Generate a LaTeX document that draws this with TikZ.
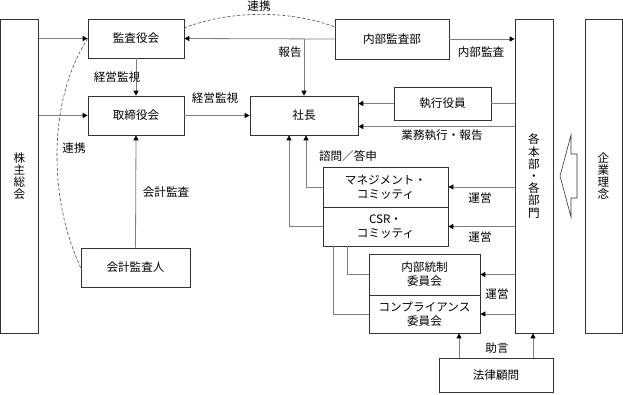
\documentclass[tikz,border=0pt]{standalone}
\usepackage{fontspec}
\setmainfont{Noto Sans CJK JP}
\usetikzlibrary{arrows.meta,calc}
\begin{document}
\begin{tikzpicture}[x=1pt,y=-1pt,
  box/.style={draw=black!80,line width=0.7pt,inner sep=0pt,align=center,fill=white,
    font=\fontsize{11.6}{14}\selectfont},
  vbox/.style={box,font=\fontsize{11.6}{12.2}\selectfont},
  conn/.style={draw=black!50,line width=0.8pt},
  arr/.style={conn,-{Triangle[length=5pt,width=5pt,color=black]}},
  dashline/.style={draw=black!70,line width=0.6pt,dash pattern=on 3pt off 2pt},
  lbl/.style={inner sep=0pt,font=\fontsize{11.6}{13}\selectfont}]
\useasboundingbox (0,0) rectangle (623,394);

% boxes
\node[vbox,minimum width=38pt,minimum height=314pt] (kabu) at (19.5,176) {株\\主\\総\\会};
\node[box,minimum width=96pt,minimum height=39pt] (kansa) at (136,38.5) {監査役会};
\node[box,minimum width=96pt,minimum height=39pt] (tori) at (136,115.5) {取締役会};
\node[box,minimum width=108pt,minimum height=39pt] (shacho) at (304,115.5) {社長};
\node[box,minimum width=114pt,minimum height=40pt] (naibu) at (392,39) {内部監査部};
\node[vbox,minimum width=38pt,minimum height=314pt] (kaku) at (534,176) {各\\本\\部\\・\\各\\部\\門};
\node[vbox,minimum width=37pt,minimum height=314pt] (kigyo) at (603.5,176) {企\\業\\理\\念};
\node[box,minimum width=97pt,minimum height=33pt] (shikko) at (442.5,103.5) {執行役員};
\node[box,minimum width=125pt,minimum height=40pt] (mgmt) at (385.5,187) {マネジメント・\\コミッティ};
\node[box,minimum width=125pt,minimum height=39pt] (csr) at (385.5,226.5) {CSR・\\コミッティ};
\node[box,minimum width=111pt,minimum height=41pt] (naitou) at (424.5,274.5) {内部統制\\委員会};
\node[box,minimum width=111pt,minimum height=38pt] (comp) at (424.5,314) {コンプライアンス\\委員会};
\node[box,minimum width=114pt,minimum height=34pt] (houritsu) at (496,375) {法律顧問};
\node[box,minimum width=109pt,minimum height=39pt] (kaikei) at (135.5,267.5) {会計監査人};

% helper coordinates
\coordinate (gyomu) at (0,126.5);
\coordinate (s1) at (306,0);
\coordinate (s2) at (289,0);
\coordinate (c1) at (347,0);
\coordinate (c2) at (333,0);
\coordinate (h1) at (459,0);
\coordinate (h2) at (533,0);
\coordinate (d1) at (184,28);
\coordinate (d2) at (335,27);

% connectors
\draw[arr] (kabu.east |- kansa.west) -- (kansa.west);
\draw[arr] (kabu.east |- tori.west) -- (tori.west);
\draw[arr] (kansa.south) -- (tori.north);
\draw[arr] (tori.east) -- (shacho.west);
\draw[arr] (naibu.west) -- (kansa.east);
\draw[arr] (naibu.west -| shacho.north) -- (shacho.north);
\draw[arr] (naibu.east) -- (kaku.west |- naibu.east);
\draw[conn] (kaku.west |- shikko.east) -- (shikko.east);
\draw[arr] (shikko.west) -- (shacho.east |- shikko.west);
\draw[arr] (kaku.west |- gyomu) -- (shacho.east |- gyomu);
\draw[arr] (mgmt.west) -| (s1 |- shacho.south);
\draw[arr] (csr.west) -| (s2 |- shacho.south);
\draw[arr] (kaku.west |- mgmt.east) -- (mgmt.east);
\draw[arr] (kaku.west |- csr.east) -- (csr.east);
\draw[arr] (kaku.west |- naitou.east) -- (naitou.east);
\draw[arr] (kaku.west |- comp.east) -- (comp.east);
\draw[conn] (c1 |- csr.south) |- (naitou.west);
\draw[conn] (c2 |- csr.south) |- (comp.west);
\draw[arr] (h1 |- houritsu.north) -- (h1 |- comp.south);
\draw[arr] (h2 |- houritsu.north) -- (h2 |- kaku.south);
\draw[arr] (kaikei.north) -- (tori.south);

% dashed links
\draw[dashline] (kansa.west) .. controls (48,100) and (48,198) .. (kaikei.west);
\draw[dashline] (d1) .. controls (230,10) and (290,10) .. (d2);

% block arrow
\draw[draw=black!80,line width=0.6pt] (571,135) -- (571,154) -- (577,154) -- (577,198)
  -- (571,198) -- (571,217) -- (560,176) -- cycle;

% labels
\node[lbl] at (259,6) {連携};
\node[lbl] at (117,77) {経営監視};
\node[lbl] at (215,98) {経営監視};
\node[lbl] at (74,148) {連携};
\node[lbl] at (166,192) {会計監査};
\node[lbl] at (290,52) {報告};
\node[lbl] at (481,52) {内部監査};
\node[lbl] at (442,135) {業務執行・報告};
\node[lbl] at (348,156) {諮問／答申};
\node[lbl] at (480,198) {運営};
\node[lbl] at (480,237) {運営};
\node[lbl] at (497,294) {運営};
\node[lbl] at (497,348) {助言};
\end{tikzpicture}
\end{document}
